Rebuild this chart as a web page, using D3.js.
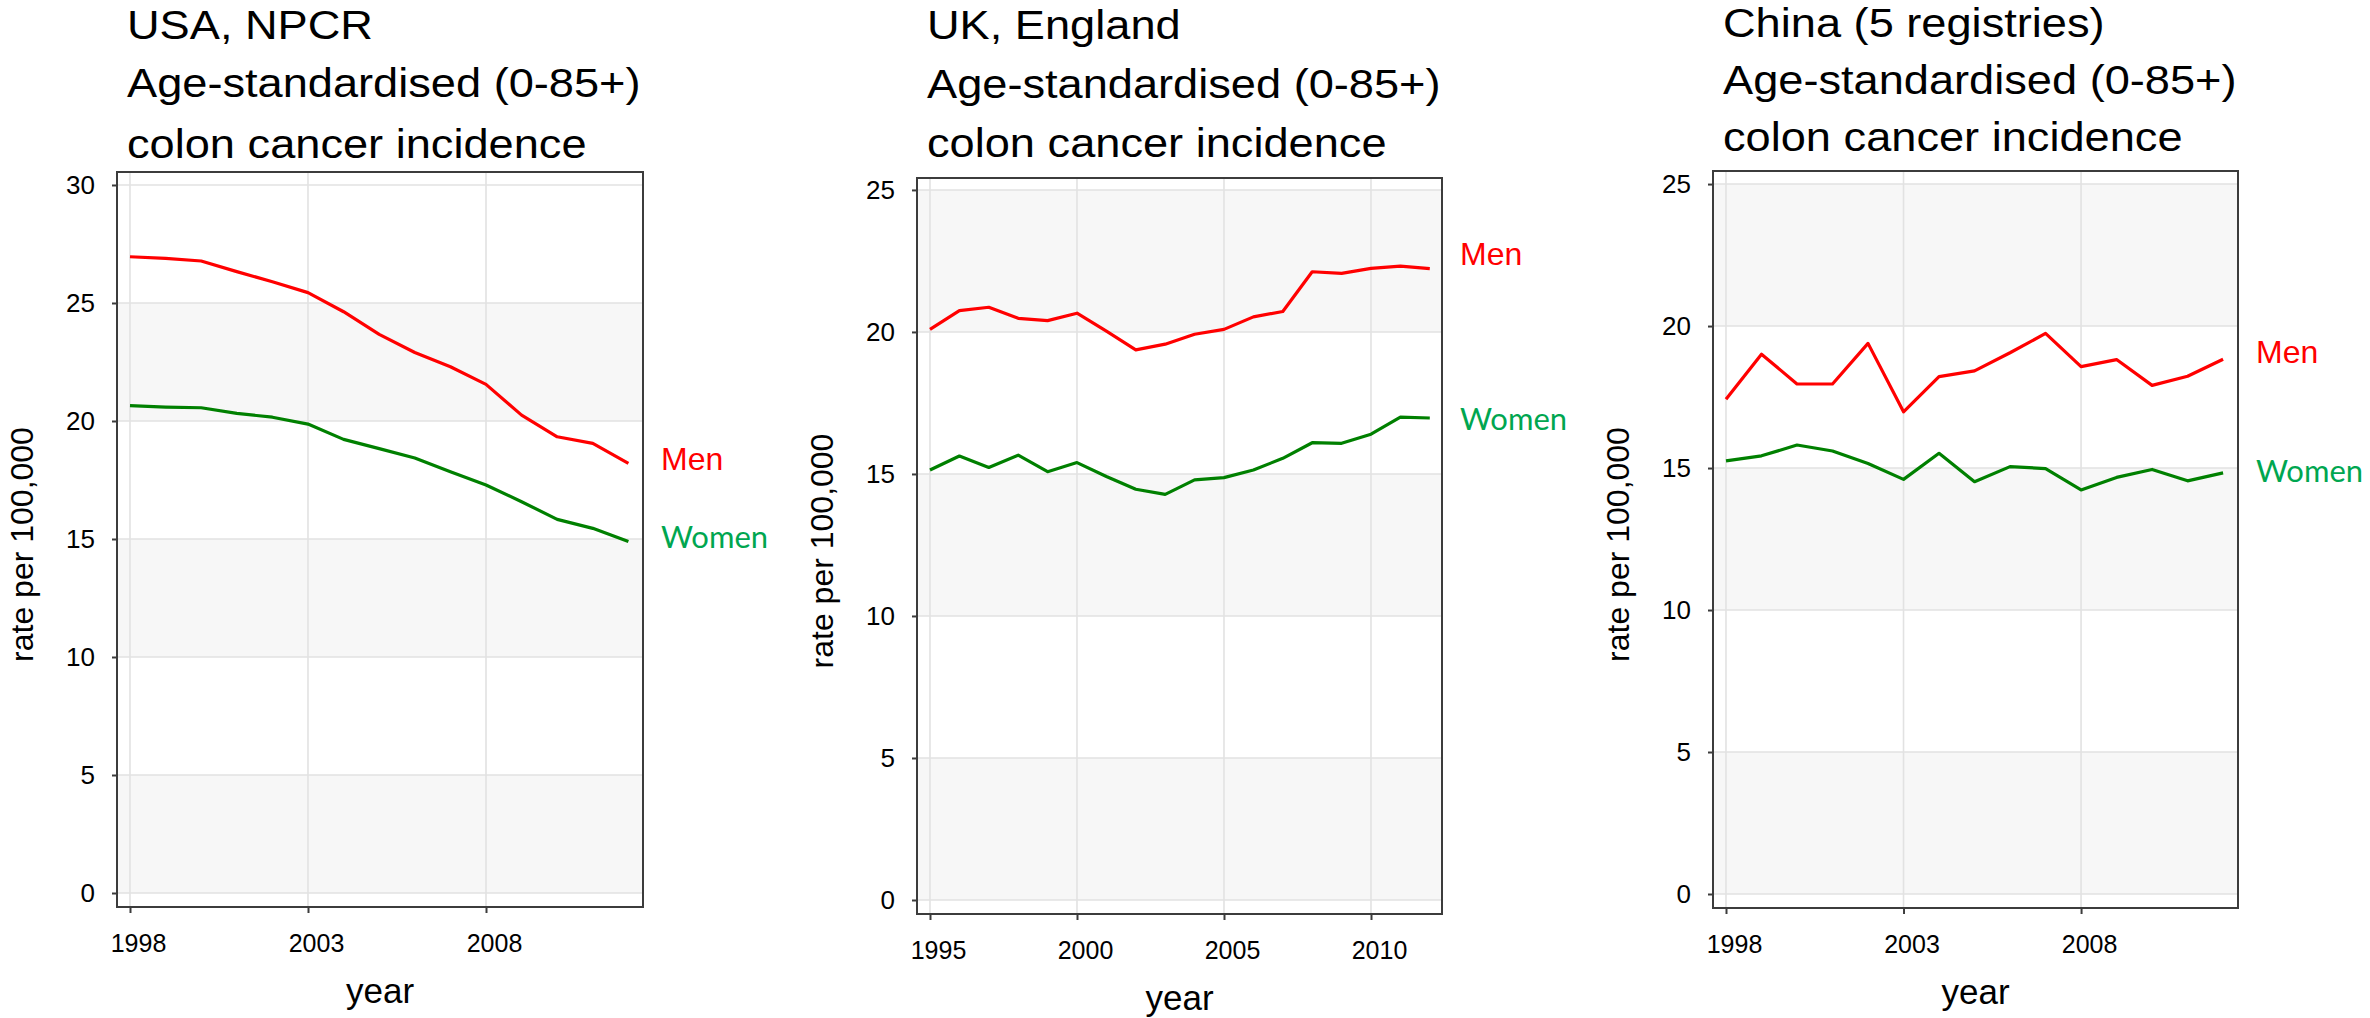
<!DOCTYPE html>
<html>
<head>
<meta charset="utf-8">
<script src="https://cdn.jsdelivr.net/npm/d3@7"></script>
<style>
  body { margin: 0; background: #ffffff; }
  svg { display: block; }
</style>
</head>
<body>
<svg id="chart" width="2370" height="1018"></svg>
<script>
// ---------------- DATA ----------------
const seriesNames = ["Men", "Women"];
const xTitle = "year";
const yTitle = "rate per 100,000";

const usaTitle = ["USA, NPCR", "Age-standardised (0-85+)", "colon cancer incidence"];
const usaYears = [1998, 1999, 2000, 2001, 2002, 2003, 2004, 2005, 2006, 2007, 2008, 2009, 2010, 2011, 2012];
const usaMen   = [26.96, 26.89, 26.78, 26.33, 25.90, 25.44, 24.63, 23.67, 22.90, 22.30, 21.55, 20.25, 19.33, 19.05, 18.20];
const usaWomen = [20.65, 20.59, 20.56, 20.32, 20.16, 19.87, 19.22, 18.83, 18.43, 17.85, 17.29, 16.58, 15.83, 15.45, 14.89];
const usaXTicks = [1998, 2003, 2008];
const usaYTicks = [0, 5, 10, 15, 20, 25, 30];

const ukTitle = ["UK, England", "Age-standardised (0-85+)", "colon cancer incidence"];
const ukYears = [1995, 1996, 1997, 1998, 1999, 2000, 2001, 2002, 2003, 2004, 2005, 2006, 2007, 2008, 2009, 2010, 2011, 2012];
const ukMen   = [20.09, 20.75, 20.87, 20.48, 20.40, 20.66, 20.03, 19.37, 19.57, 19.92, 20.09, 20.53, 20.72, 22.12, 22.06, 22.24, 22.32, 22.23];
const ukWomen = [15.14, 15.63, 15.23, 15.66, 15.08, 15.40, 14.91, 14.46, 14.28, 14.79, 14.87, 15.14, 15.55, 16.10, 16.08, 16.40, 17.00, 16.97];
const ukXTicks = [1995, 2000, 2005, 2010];
const ukYTicks = [0, 5, 10, 15, 20, 25];

const chinaTitle = ["China (5 registries)", "Age-standardised (0-85+)", "colon cancer incidence"];
const chinaYears = [1998, 1999, 2000, 2001, 2002, 2003, 2004, 2005, 2006, 2007, 2008, 2009, 2010, 2011, 2012];
const chinaMen   = [17.42, 19.01, 17.96, 17.96, 19.39, 16.98, 18.22, 18.42, 19.06, 19.74, 18.57, 18.82, 17.91, 18.23, 18.83];
const chinaWomen = [15.25, 15.43, 15.81, 15.60, 15.16, 14.60, 15.52, 14.52, 15.05, 14.98, 14.23, 14.67, 14.95, 14.55, 14.83];
const chinaXTicks = [1998, 2003, 2008];
const chinaYTicks = [0, 5, 10, 15, 20, 25];

// ---------------- LAYOUT ----------------
const panels = [
  { title: usaTitle, years: usaYears, men: usaMen, women: usaWomen, xTicks: usaXTicks, yTicks: usaYTicks,
    box: { left: 117, right: 643, top: 172, bottom: 907 },
    xDomain: [1997.635, 2012.41], yDomain: [-0.593, 30.55],
    titleBase: [39, 97, 158], labelAt: [18.41, 15.08] },
  { title: ukTitle, years: ukYears, men: ukMen, women: ukWomen, xTicks: ukXTicks, yTicks: ukYTicks,
    box: { left: 917, right: 1442, top: 178, bottom: 914 },
    xDomain: [1994.558, 2012.415], yDomain: [-0.493, 25.42],
    titleBase: [39, 98, 157], labelAt: [22.75, 16.94] },
  { title: chinaTitle, years: chinaYears, men: chinaMen, women: chinaWomen, xTicks: chinaXTicks, yTicks: chinaYTicks,
    box: { left: 1713, right: 2238, top: 171, bottom: 908 },
    xDomain: [1997.634, 2012.42], yDomain: [-0.493, 25.46],
    titleBase: [37, 94, 151], labelAt: [19.1, 14.89] }
];

const FONT = "'Liberation Sans', Arial, Helvetica, sans-serif";
const lineColors = ["#ff0000", "#008000"];
const labelColors = ["#ff0000", "#00a650"];
const labelFonts = [FONT, "Lato, 'Open Sans', sans-serif"];
const labelSizes = [32, 31];

const svg = d3.select("#chart");

panels.forEach((p, pi) => {
  const b = p.box;
  const x = d3.scaleLinear().domain(p.xDomain).range([b.left, b.right]);
  const y = d3.scaleLinear().domain(p.yDomain).range([b.bottom, b.top]);
  const g = svg.append("g");

  // title (slightly wide face, as in the reference)
  const tx = b.left + 10;
  const t = g.append("text")
    .attr("transform", `translate(${tx},0) scale(1.13,1)`)
    .attr("font-family", FONT).attr("font-size", 40).attr("fill", "#000");
  p.title.forEach((line, i) => {
    t.append("tspan").attr("x", 0).attr("y", p.titleBase[i]).text(line);
  });

  // plot background + alternating bands
  g.append("rect").attr("x", b.left).attr("y", b.top)
    .attr("width", b.right - b.left).attr("height", b.bottom - b.top).attr("fill", "#ffffff");
  for (let i = 0; i < p.yTicks.length - 1; i++) {
    if (i % 2 === 0) {
      g.append("rect")
        .attr("x", b.left).attr("width", b.right - b.left)
        .attr("y", y(p.yTicks[i + 1])).attr("height", y(p.yTicks[i]) - y(p.yTicks[i + 1]))
        .attr("fill", "#f7f7f7");
    }
  }

  // gridlines
  g.append("g").selectAll("line").data(p.yTicks).join("line")
    .attr("x1", b.left).attr("x2", b.right)
    .attr("y1", d => y(d)).attr("y2", d => y(d))
    .attr("stroke", "#e2e2e2").attr("stroke-width", 1.6);
  g.append("g").selectAll("line").data(p.xTicks).join("line")
    .attr("y1", b.top).attr("y2", b.bottom)
    .attr("x1", d => x(d)).attr("x2", d => x(d))
    .attr("stroke", "#e2e2e2").attr("stroke-width", 1.6);

  // series lines
  [p.men, p.women].forEach((vals, si) => {
    const pts = p.years.map((yr, k) => [yr, vals[k]]);
    g.append("path")
      .datum(pts)
      .attr("fill", "none")
      .attr("stroke", lineColors[si])
      .attr("stroke-width", 3.2)
      .attr("stroke-linejoin", "round")
      .attr("d", d3.line().x(d => x(d[0])).y(d => y(d[1])));
  });

  // box border
  g.append("rect").attr("x", b.left).attr("y", b.top)
    .attr("width", b.right - b.left).attr("height", b.bottom - b.top)
    .attr("fill", "none").attr("stroke", "#3c3c3c").attr("stroke-width", 2);

  // y axis
  const ya = g.append("g").attr("transform", `translate(${b.left},0)`)
    .call(d3.axisLeft(y).tickValues(p.yTicks).tickSize(5).tickPadding(17).tickFormat(d3.format("d")));
  ya.select(".domain").remove();
  ya.selectAll(".tick line").attr("stroke", "#3c3c3c").attr("stroke-width", 2);
  ya.selectAll(".tick text").attr("font-family", FONT).attr("font-size", 26).attr("fill", "#000");

  // x axis
  const xa = g.append("g").attr("transform", `translate(0,${b.bottom})`)
    .call(d3.axisBottom(x).tickValues(p.xTicks).tickSize(6).tickPadding(21).tickFormat(d3.format("d")));
  xa.select(".domain").remove();
  xa.selectAll(".tick line").attr("stroke", "#3c3c3c").attr("stroke-width", 2);
  xa.selectAll(".tick text").attr("font-family", FONT).attr("font-size", 25).attr("fill", "#000").attr("dx", 8);

  // axis titles
  g.append("text")
    .attr("x", (b.left + b.right) / 2).attr("y", b.bottom + 96)
    .attr("text-anchor", "middle").attr("font-family", FONT).attr("font-size", 35).attr("fill", "#000")
    .text(xTitle);
  g.append("text")
    .attr("transform", `translate(${b.left - 84},${(b.top + b.bottom) / 2 + 5}) rotate(-90)`)
    .attr("text-anchor", "middle").attr("font-family", FONT).attr("font-size", 32).attr("fill", "#000")
    .text(yTitle);

  // series labels
  seriesNames.forEach((name, si) => {
    g.append("text")
      .attr("x", b.right + 18)
      .attr("y", y(p.labelAt[si]) + 11)
      .attr("font-family", labelFonts[si]).attr("font-size", labelSizes[si])
      .attr("fill", labelColors[si])
      .text(name);
  });
});
</script>
</body>
</html>
